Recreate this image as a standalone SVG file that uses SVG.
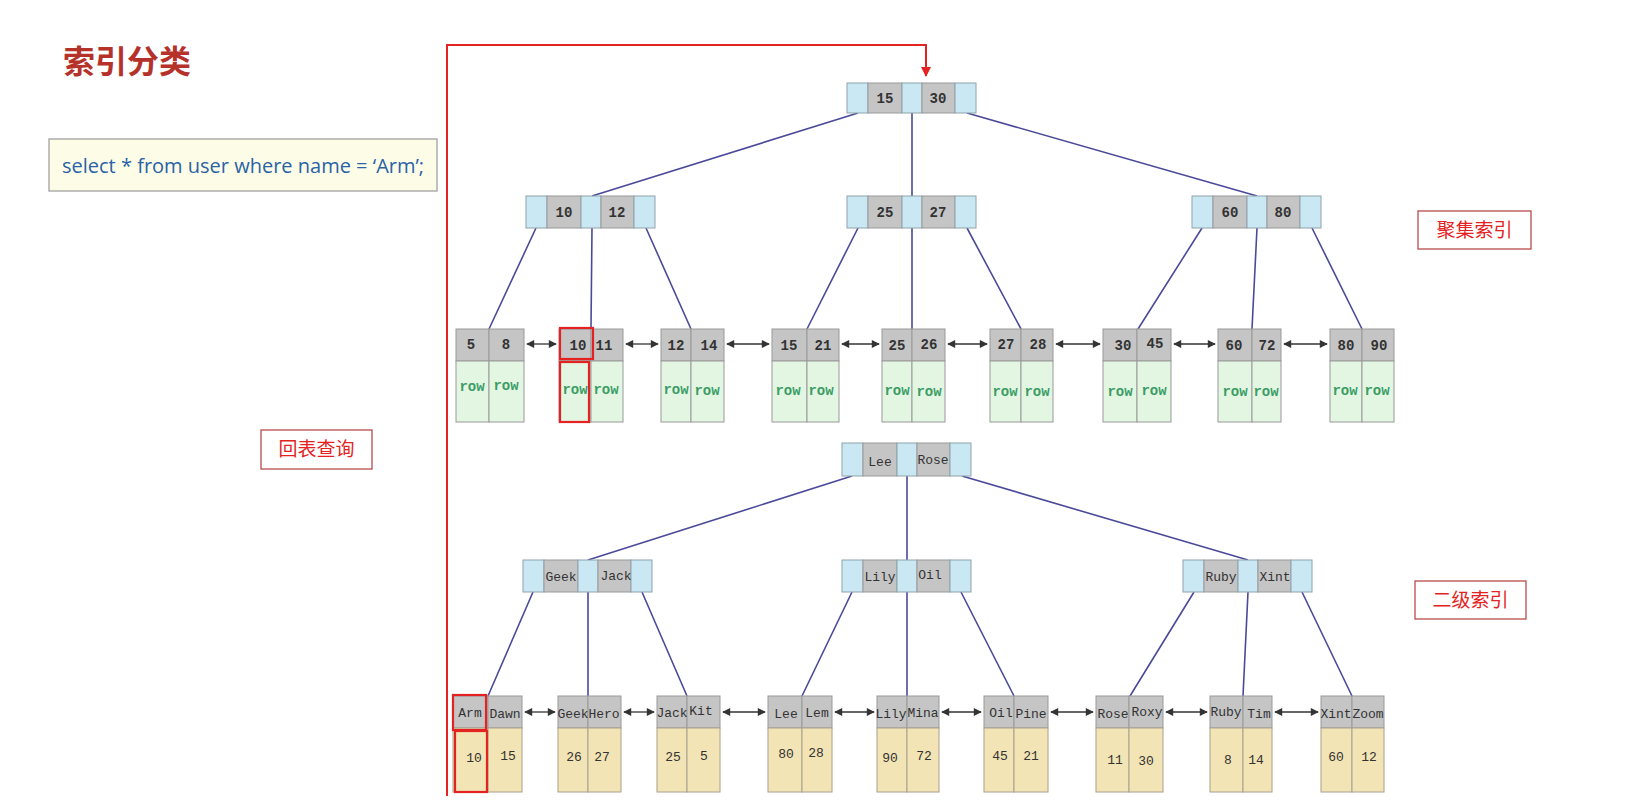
<svg xmlns="http://www.w3.org/2000/svg" width="1648" height="811" viewBox="0 0 1648 811">
<defs>
<marker id="dbl" viewBox="0 0 10 10" refX="9" refY="5" markerWidth="9" markerHeight="8" markerUnits="userSpaceOnUse" orient="auto-start-reverse"><path d="M0,0 L10,5 L0,10 z" fill="#333"/></marker>
<marker id="red" viewBox="0 0 10 10" refX="9" refY="5" markerWidth="11" markerHeight="10" markerUnits="userSpaceOnUse" orient="auto"><path d="M0,0 L10,5 L0,10 z" fill="#e52222"/></marker>
</defs>
<style>
.bl{fill:#c9e8f3;stroke:#8fa3ab;stroke-width:1}
.gr{fill:#c5c5c5;stroke:#999;stroke-width:1}
.gn{fill:#e3f6e2;stroke:#999;stroke-width:1}
.yl{fill:#f2e4b4;stroke:#a8a090;stroke-width:1}
.k{font-family:"Liberation Mono","DejaVu Sans Mono",monospace;font-size:14px;font-weight:bold;fill:#333;text-anchor:middle}
.n{font-family:"Liberation Mono","DejaVu Sans Mono",monospace;font-size:13px;fill:#333;text-anchor:middle}
.row{font-family:"Liberation Mono","DejaVu Sans Mono",monospace;font-size:14px;font-weight:bold;fill:#3a9d66;text-anchor:middle}
.e{stroke:#4a4a9a;stroke-width:1.6;fill:none}
.lk line{stroke:#333;stroke-width:1.3;marker-start:url(#dbl);marker-end:url(#dbl)}
.hl{fill:none;stroke:#e52222;stroke-width:2.2}
.lbl{fill:#fff;stroke:#b84a4a;stroke-width:1.3}
.lt{font-family:"Noto Sans CJK SC","Noto Sans",sans-serif;font-size:19px;fill:#e52222;text-anchor:middle}
</style>
<rect width="1648" height="811" fill="#fff"/>

<g id="title"><text x="63" y="73" font-family="Noto Sans CJK SC, Noto Sans, sans-serif" font-size="32" font-weight="bold" fill="#b5322b">索引分类</text></g>
<g id="sql"><rect x="49" y="139" width="388" height="52" fill="#fdfde7" stroke="#999" stroke-width="1.2"/><text x="62" y="173" font-family="Open Sans, Liberation Sans, sans-serif" font-size="20" fill="#2a62a8">select * from user where name = ‘Arm’;</text></g>

<g id="connectors">
<path class="e" d="M858,113 L592,196 M912,113 L912,196 M967,113 L1257,196"/>
<path class="e" d="M536,228 L489,329 M592,228 L591,329 M646,228 L691,329"/>
<path class="e" d="M858,228 L807,329 M912,228 L912,329 M967,228 L1021,329"/>
<path class="e" d="M1202,228 L1138,329 M1257,228 L1252,329 M1312,228 L1362,329"/>
<path class="e" d="M852,476 L588,560 M907,476 L907,560 M962,476 L1248,560"/>
<path class="e" d="M533,592 L488,696 M588,592 L588,696 M642,592 L687,696"/>
<path class="e" d="M852,592 L802,696 M907,592 L907,696 M961,592 L1014,696"/>
<path class="e" d="M1194,592 L1130,696 M1248,592 L1243,696 M1302,592 L1352,696"/>
<g class="lk">
<line x1="527" y1="344" x2="556" y2="344"/><line x1="626" y1="344" x2="658" y2="344"/><line x1="727" y1="344" x2="769" y2="344"/><line x1="842" y1="344" x2="879" y2="344"/><line x1="948" y1="344" x2="987" y2="344"/><line x1="1056" y1="344" x2="1100" y2="344"/><line x1="1174" y1="344" x2="1215" y2="344"/><line x1="1284" y1="344" x2="1327" y2="344"/>
<line x1="525" y1="712" x2="555" y2="712"/><line x1="624" y1="712" x2="654" y2="712"/><line x1="723" y1="712" x2="765" y2="712"/><line x1="835" y1="712" x2="874" y2="712"/><line x1="942" y1="712" x2="981" y2="712"/><line x1="1051" y1="712" x2="1093" y2="712"/><line x1="1166" y1="712" x2="1207" y2="712"/><line x1="1275" y1="712" x2="1318" y2="712"/>
</g>
<path d="M447,796 V45 H926 V76" fill="none" stroke="#e52222" stroke-width="2" marker-end="url(#red)"/>
</g>

<g id="p-root"><rect class="bl" x="847" y="83" width="21" height="30"/><rect class="gr" x="868" y="83" width="34" height="30"/><rect class="bl" x="902" y="83" width="20" height="30"/><rect class="gr" x="922" y="83" width="33" height="30"/><rect class="bl" x="955" y="83" width="21" height="30"/><text class="k" x="885" y="103">15</text><text class="k" x="938" y="103">30</text></g>
<g id="p-n1"><rect class="bl" x="526" y="196" width="21" height="32"/><rect class="gr" x="547" y="196" width="34" height="32"/><rect class="bl" x="581" y="196" width="20" height="32"/><rect class="gr" x="601" y="196" width="33" height="32"/><rect class="bl" x="634" y="196" width="21" height="32"/><text class="k" x="564" y="217">10</text><text class="k" x="617" y="217">12</text></g>
<g id="p-n2"><rect class="bl" x="847" y="196" width="21" height="32"/><rect class="gr" x="868" y="196" width="34" height="32"/><rect class="bl" x="902" y="196" width="20" height="32"/><rect class="gr" x="922" y="196" width="33" height="32"/><rect class="bl" x="955" y="196" width="21" height="32"/><text class="k" x="885" y="217">25</text><text class="k" x="938" y="217">27</text></g>
<g id="p-n3"><rect class="bl" x="1192" y="196" width="21" height="32"/><rect class="gr" x="1213" y="196" width="34" height="32"/><rect class="bl" x="1247" y="196" width="20" height="32"/><rect class="gr" x="1267" y="196" width="33" height="32"/><rect class="bl" x="1300" y="196" width="21" height="32"/><text class="k" x="1230" y="217">60</text><text class="k" x="1283" y="217">80</text></g>

<g id="p-l1"><rect class="gr" x="456" y="329" width="33" height="32"/><rect class="gr" x="489" y="329" width="35" height="32"/><rect class="gn" x="456" y="361" width="33" height="61"/><rect class="gn" x="489" y="361" width="35" height="61"/><text class="k" x="471" y="349">5</text><text class="k" x="506" y="349">8</text><text class="row" x="472" y="391">row</text><text class="row" x="506" y="390">row</text></g>
<g id="p-l2"><rect class="gr" x="559" y="329" width="32" height="32"/><rect class="gr" x="591" y="329" width="32" height="32"/><rect class="gn" x="559" y="361" width="32" height="61"/><rect class="gn" x="591" y="361" width="32" height="61"/><text class="k" x="578" y="350">10</text><text class="k" x="604" y="350">11</text><text class="row" x="575" y="394">row</text><text class="row" x="606" y="394">row</text></g>
<g id="p-l3"><rect class="gr" x="661" y="329" width="30" height="32"/><rect class="gr" x="691" y="329" width="33" height="32"/><rect class="gn" x="661" y="361" width="30" height="61"/><rect class="gn" x="691" y="361" width="33" height="61"/><text class="k" x="676" y="350">12</text><text class="k" x="709" y="350">14</text><text class="row" x="676" y="394">row</text><text class="row" x="707" y="395">row</text></g>
<g id="p-l4"><rect class="gr" x="772" y="329" width="35" height="32"/><rect class="gr" x="807" y="329" width="32" height="32"/><rect class="gn" x="772" y="361" width="35" height="61"/><rect class="gn" x="807" y="361" width="32" height="61"/><text class="k" x="789" y="350">15</text><text class="k" x="823" y="350">21</text><text class="row" x="788" y="395">row</text><text class="row" x="821" y="395">row</text></g>
<g id="p-l5"><rect class="gr" x="882" y="329" width="30" height="32"/><rect class="gr" x="912" y="329" width="33" height="32"/><rect class="gn" x="882" y="361" width="30" height="61"/><rect class="gn" x="912" y="361" width="33" height="61"/><text class="k" x="897" y="350">25</text><text class="k" x="929" y="349">26</text><text class="row" x="897" y="395">row</text><text class="row" x="929" y="396">row</text></g>
<g id="p-l6"><rect class="gr" x="990" y="329" width="31" height="32"/><rect class="gr" x="1021" y="329" width="32" height="32"/><rect class="gn" x="990" y="361" width="31" height="61"/><rect class="gn" x="1021" y="361" width="32" height="61"/><text class="k" x="1006" y="349">27</text><text class="k" x="1038" y="349">28</text><text class="row" x="1005" y="396">row</text><text class="row" x="1037" y="396">row</text></g>
<g id="p-l7"><rect class="gr" x="1103" y="329" width="34" height="32"/><rect class="gr" x="1137" y="329" width="34" height="32"/><rect class="gn" x="1103" y="361" width="34" height="61"/><rect class="gn" x="1137" y="361" width="34" height="61"/><text class="k" x="1123" y="350">30</text><text class="k" x="1155" y="348">45</text><text class="row" x="1120" y="396">row</text><text class="row" x="1154" y="395">row</text></g>
<g id="p-l8"><rect class="gr" x="1218" y="329" width="34" height="32"/><rect class="gr" x="1252" y="329" width="29" height="32"/><rect class="gn" x="1218" y="361" width="34" height="61"/><rect class="gn" x="1252" y="361" width="29" height="61"/><text class="k" x="1234" y="350">60</text><text class="k" x="1267" y="350">72</text><text class="row" x="1235" y="396">row</text><text class="row" x="1266" y="396">row</text></g>
<g id="p-l9"><rect class="gr" x="1330" y="329" width="32" height="32"/><rect class="gr" x="1362" y="329" width="32" height="32"/><rect class="gn" x="1330" y="361" width="32" height="61"/><rect class="gn" x="1362" y="361" width="32" height="61"/><text class="k" x="1346" y="350">80</text><text class="k" x="1379" y="350">90</text><text class="row" x="1345" y="395">row</text><text class="row" x="1377" y="395">row</text></g>
<g id="p-hl"><rect class="hl" x="560" y="328" width="33" height="31"/><rect class="hl" x="560" y="362" width="29" height="60"/></g>

<g id="s-root"><rect class="bl" x="842" y="443" width="21" height="33"/><rect class="gr" x="863" y="443" width="34" height="33"/><rect class="bl" x="897" y="443" width="20" height="33"/><rect class="gr" x="917" y="443" width="33" height="33"/><rect class="bl" x="950" y="443" width="21" height="33"/><text class="n" x="880" y="466">Lee</text><text class="n" x="933" y="464">Rose</text></g>
<g id="s-n1"><rect class="bl" x="523" y="560" width="21" height="32"/><rect class="gr" x="544" y="560" width="34" height="32"/><rect class="bl" x="578" y="560" width="20" height="32"/><rect class="gr" x="598" y="560" width="33" height="32"/><rect class="bl" x="631" y="560" width="21" height="32"/><text class="n" x="561" y="581">Geek</text><text class="n" x="616" y="580">Jack</text></g>
<g id="s-n2"><rect class="bl" x="842" y="560" width="21" height="32"/><rect class="gr" x="863" y="560" width="34" height="32"/><rect class="bl" x="897" y="560" width="20" height="32"/><rect class="gr" x="917" y="560" width="33" height="32"/><rect class="bl" x="950" y="560" width="21" height="32"/><text class="n" x="880" y="581">Lily</text><text class="n" x="930" y="579">Oil</text></g>
<g id="s-n3"><rect class="bl" x="1183" y="560" width="21" height="32"/><rect class="gr" x="1204" y="560" width="34" height="32"/><rect class="bl" x="1238" y="560" width="20" height="32"/><rect class="gr" x="1258" y="560" width="33" height="32"/><rect class="bl" x="1291" y="560" width="21" height="32"/><text class="n" x="1221" y="581">Ruby</text><text class="n" x="1275" y="581">Xint</text></g>

<g id="s-l1"><rect class="gr" x="453" y="696" width="35" height="32"/><rect class="gr" x="488" y="696" width="34" height="32"/><rect class="yl" x="453" y="728" width="35" height="64"/><rect class="yl" x="488" y="728" width="34" height="64"/><text class="n" x="470" y="717">Arm</text><text class="n" x="505" y="718">Dawn</text><text class="n" x="474" y="762">10</text><text class="n" x="508" y="760">15</text></g>
<g id="s-l2"><rect class="gr" x="558" y="696" width="30" height="32"/><rect class="gr" x="588" y="696" width="33" height="32"/><rect class="yl" x="558" y="728" width="30" height="64"/><rect class="yl" x="588" y="728" width="33" height="64"/><text class="n" x="573" y="718">Geek</text><text class="n" x="604" y="718">Hero</text><text class="n" x="574" y="761">26</text><text class="n" x="602" y="761">27</text></g>
<g id="s-l3"><rect class="gr" x="657" y="696" width="30" height="32"/><rect class="gr" x="687" y="696" width="33" height="32"/><rect class="yl" x="657" y="728" width="30" height="64"/><rect class="yl" x="687" y="728" width="33" height="64"/><text class="n" x="672" y="717">Jack</text><text class="n" x="701" y="715">Kit</text><text class="n" x="673" y="761">25</text><text class="n" x="704" y="760">5</text></g>
<g id="s-l4"><rect class="gr" x="768" y="696" width="34" height="32"/><rect class="gr" x="802" y="696" width="30" height="32"/><rect class="yl" x="768" y="728" width="34" height="64"/><rect class="yl" x="802" y="728" width="30" height="64"/><text class="n" x="786" y="718">Lee</text><text class="n" x="817" y="717">Lem</text><text class="n" x="786" y="758">80</text><text class="n" x="816" y="757">28</text></g>
<g id="s-l5"><rect class="gr" x="877" y="696" width="30" height="32"/><rect class="gr" x="907" y="696" width="32" height="32"/><rect class="yl" x="877" y="728" width="30" height="64"/><rect class="yl" x="907" y="728" width="32" height="64"/><text class="n" x="891" y="718">Lily</text><text class="n" x="923" y="717">Mina</text><text class="n" x="890" y="762">90</text><text class="n" x="924" y="760">72</text></g>
<g id="s-l6"><rect class="gr" x="984" y="696" width="30" height="32"/><rect class="gr" x="1014" y="696" width="34" height="32"/><rect class="yl" x="984" y="728" width="30" height="64"/><rect class="yl" x="1014" y="728" width="34" height="64"/><text class="n" x="1001" y="717">Oil</text><text class="n" x="1031" y="718">Pine</text><text class="n" x="1000" y="760">45</text><text class="n" x="1031" y="760">21</text></g>
<g id="s-l7"><rect class="gr" x="1096" y="696" width="33" height="32"/><rect class="gr" x="1129" y="696" width="34" height="32"/><rect class="yl" x="1096" y="728" width="33" height="64"/><rect class="yl" x="1129" y="728" width="34" height="64"/><text class="n" x="1113" y="718">Rose</text><text class="n" x="1147" y="716">Roxy</text><text class="n" x="1115" y="764">11</text><text class="n" x="1146" y="765">30</text></g>
<g id="s-l8"><rect class="gr" x="1210" y="696" width="33" height="32"/><rect class="gr" x="1243" y="696" width="29" height="32"/><rect class="yl" x="1210" y="728" width="33" height="64"/><rect class="yl" x="1243" y="728" width="29" height="64"/><text class="n" x="1226" y="716">Ruby</text><text class="n" x="1259" y="718">Tim</text><text class="n" x="1228" y="764">8</text><text class="n" x="1256" y="764">14</text></g>
<g id="s-l9"><rect class="gr" x="1321" y="696" width="31" height="32"/><rect class="gr" x="1352" y="696" width="32" height="32"/><rect class="yl" x="1321" y="728" width="31" height="64"/><rect class="yl" x="1352" y="728" width="32" height="64"/><text class="n" x="1336" y="718">Xint</text><text class="n" x="1368" y="718">Zoom</text><text class="n" x="1336" y="761">60</text><text class="n" x="1369" y="761">12</text></g>
<g id="s-hl"><rect class="hl" x="453" y="695" width="33" height="35"/><rect class="hl" x="455" y="731" width="32" height="61"/></g>

<g id="lbl-clustered"><rect class="lbl" x="1418" y="211" width="113" height="38"/><text class="lt" x="1474.5" y="237">聚集索引</text></g>
<g id="lbl-secondary"><rect class="lbl" x="1415" y="581" width="111" height="38"/><text class="lt" x="1470.5" y="607">二级索引</text></g>
<g id="lbl-lookup"><rect class="lbl" x="261" y="430" width="111" height="39"/><text class="lt" x="316.5" y="456">回表查询</text></g>
</svg>
